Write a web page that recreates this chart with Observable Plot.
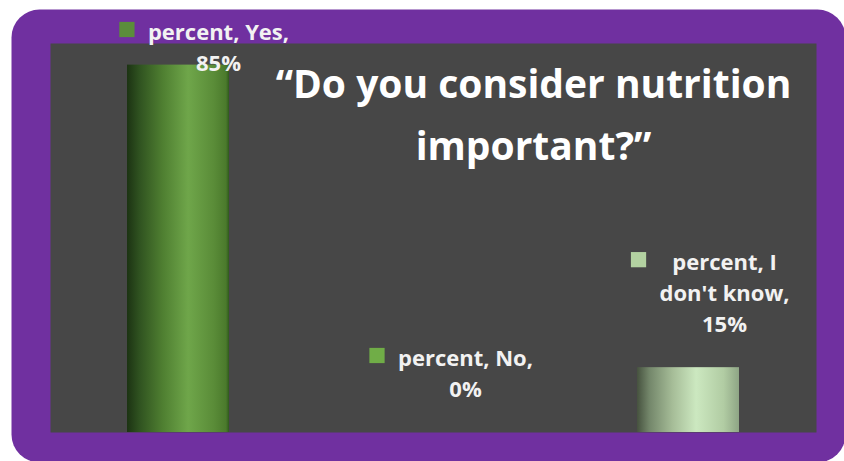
<!DOCTYPE html>
<html><head><meta charset="utf-8">
<script src="https://cdn.jsdelivr.net/npm/d3@7"></script>
<script src="https://cdn.jsdelivr.net/npm/@observablehq/plot@0.6"></script>
<style>
html,body{margin:0;padding:0;background:#fff;}
#chart svg{display:block;}
</style></head><body><div id="chart"></div>
<script>
// ---- data ----
const categories = ["Yes", "No", "I don't know"];
const seriesName = "percent";
const percent = [85, 0, 15];
const titleLines = ["“Do you consider nutrition", "important?”"];

// ---- layout / style ----
const W = 844, H = 461;
const M = {top: 43, right: 28, bottom: 29, left: 50};
const yMax = 90;
const FONT = "'Open Sans', 'DejaVu Sans', sans-serif";
const labelSize = 22, titleSize = 39;
const labelLH = 31, titleLH = 62;
const labelDx = {"Yes": 40, "No": 32, "I don't know": 36};
const gradId = {"Yes": "gYes", "No": "gNo", "I don't know": "gDk"};
const keyColor = {"Yes": "#5b8d3b", "No": "#70ad47", "I don't know": "#b3d2a1"};

const innerH = H - M.top - M.bottom;
const yPx = v => M.top + (1 - v / yMax) * innerH;

function wrap(s, max) {
  const words = s.split(" "), lines = [];
  let cur = "";
  for (const w of words) {
    if (cur && (cur + " " + w).length > max) { lines.push(cur); cur = w; }
    else cur = cur ? cur + " " + w : w;
  }
  if (cur) lines.push(cur);
  return lines;
}
const ctx = document.createElement("canvas").getContext("2d");
ctx.font = `bold ${labelSize}px 'Open Sans'`;
const measure = s => ctx.measureText(s).width;

const data = categories.map((c, i) => {
  const v = percent[i];
  const lines = wrap(`${seriesName}, ${c}, ${v}%`, 14);
  const n = lines.length;
  let lastBase = yPx(v) - 36;
  lastBase = Math.max(lastBase, 39 + (n - 1) * labelLH);
  const firstBase = lastBase - (n - 1) * labelLH;
  const maxW = d3.max(lines, measure);
  return {
    cat: c, value: v, label: lines.join("\n"),
    fill: `url(#${gradId[c]})`,
    dy: lastBase - yPx(v),
    dx: labelDx[c],
    keyDx: labelDx[c] - maxW / 2 - 13 - 8,
    keyDy: firstBase - 10 - yPx(v),
    key: keyColor[c]
  };
});

function gradients() {
  const defs = d3.create("svg:defs");
  const add = (id, stops) => {
    const g = defs.append("linearGradient").attr("id", id)
      .attr("x1", 0).attr("x2", 1).attr("y1", 0).attr("y2", 0);
    for (const [o, c] of stops) g.append("stop").attr("offset", o).attr("stop-color", c);
  };
  add("gYes", [[0, "#1c3313"], [0.12, "#2f5220"], [0.35, "#4f7f31"], [0.6, "#6fa64a"], [0.85, "#5a8c38"], [0.97, "#4b7a2c"], [1, "#2f5a1c"]]);
  add("gNo", [[0, "#3e6a26"], [0.6, "#8cc76a"], [1, "#5f9a3b"]]);
  add("gDk", [[0, "#46523f"], [0.12, "#73866a"], [0.35, "#a6bd98"], [0.58, "#cce8c0"], [0.85, "#b1cca3"], [1, "#8ea585"]]);
  return defs.node();
}

const labelMarks = data.flatMap(d => [
  Plot.text([d], {
    x: "cat", y: "value", text: "label", dx: d.dx, dy: d.dy, lineAnchor: "bottom",
    lineHeight: labelLH / labelSize, fontSize: labelSize, fontWeight: "bold", fill: "#f2f2f2"
  }),
  Plot.dot([d], {
    x: "cat", y: "value", dx: d.keyDx, dy: d.keyDy, symbol: "square", r: 8.6,
    fill: "key", stroke: null
  })
]);

const plot = Plot.plot({
  width: W, height: H,
  marginTop: M.top, marginRight: M.right, marginBottom: M.bottom, marginLeft: M.left,
  style: {background: "#ffffff", fontFamily: FONT, overflow: "hidden"},
  x: {domain: categories, paddingInner: 0.6, paddingOuter: 0.3, axis: null},
  y: {domain: [0, yMax], axis: null},
  color: {type: "identity"},
  marks: [
    Plot.frame({fill: "#7030a0", stroke: null, rx: 28, insetLeft: -39, insetTop: -34, insetRight: -29, insetBottom: -30}),
    Plot.frame({fill: "#474747", stroke: null}),
    gradients,
    Plot.barY(data, {x: "cat", y: "value", fill: "fill"}),
    Plot.text([titleLines.join("\n")], {
      frameAnchor: "top", dx: 100, dy: 159 - M.top, lineAnchor: "bottom",
      lineHeight: titleLH / titleSize, fontSize: titleSize, fontWeight: "bold", fill: "#ffffff"
    }),
    ...labelMarks
  ]
});

document.getElementById("chart").append(plot);
</script></body></html>
